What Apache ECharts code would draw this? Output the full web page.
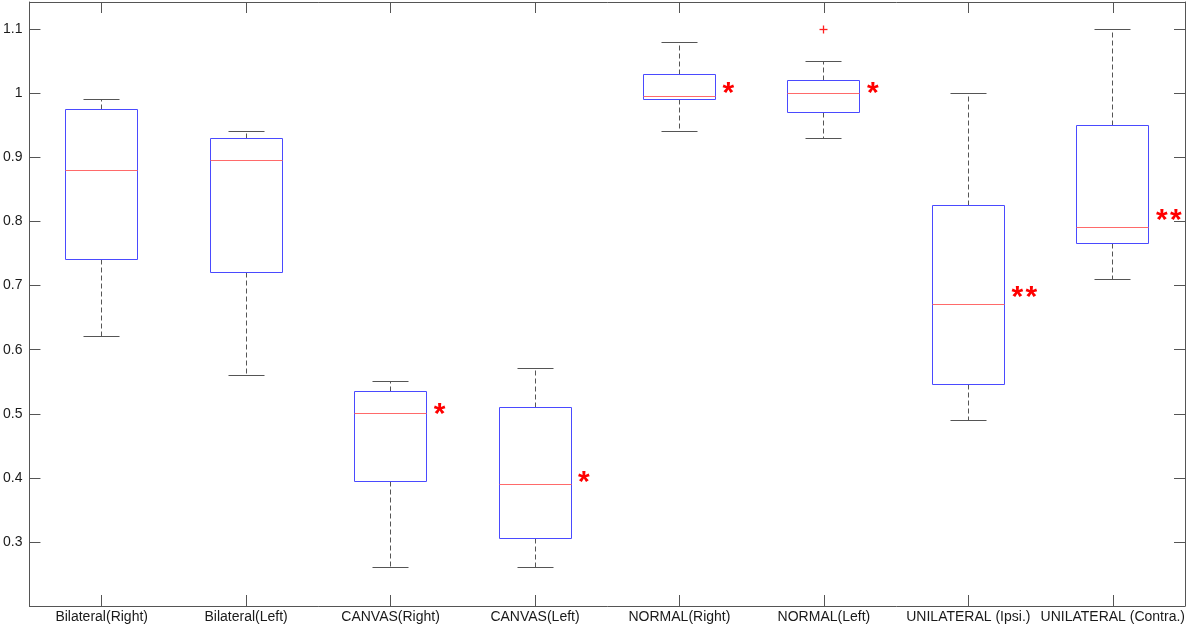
<!DOCTYPE html>
<html lang="en">
<head>
<meta charset="UTF-8">
<style>
  html, body { margin: 0; padding: 0; background: #fff; }
  #chart { width: 1189px; height: 627px; }
</style>
<script src="https://cdn.jsdelivr.net/npm/echarts@6/dist/echarts.min.js"></script>
</head>
<body>
<div id="chart"></div>
<script>
// groups on the x axis
const groups = ['Bilateral(Right)', 'Bilateral(Left)', 'CANVAS(Right)', 'CANVAS(Left)',
                'NORMAL(Right)', 'NORMAL(Left)', 'UNILATERAL (Ipsi.)', 'UNILATERAL (Contra.)'];
// box statistics
const whiskerLow  = [0.62, 0.56, 0.26, 0.26, 0.94, 0.93, 0.49, 0.71];
const q1          = [0.74, 0.72, 0.395, 0.305, 0.99, 0.97, 0.545, 0.765];
const median      = [0.88, 0.895, 0.50, 0.39, 0.995, 1.00, 0.67, 0.79];
const q3          = [0.975, 0.93, 0.535, 0.51, 1.03, 1.02, 0.825, 0.95];
const whiskerHigh = [0.99, 0.94, 0.55, 0.57, 1.08, 1.05, 1.00, 1.10];
// outliers: [group index, value]
const outliers = [[5, 1.10]];
// significance marks and the value they sit at
const sigMarks  = ['', '', '*', '*', '*', '*', '**', '**'];
const sigLevels = [0, 0, 0.510, 0.403, 1.010, 1.010, 0.692, 0.812];
const yTicks = [0.3, 0.4, 0.5, 0.6, 0.7, 0.8, 0.9, 1, 1.1];

const AXIS = '#555';
const crisp = v => Math.round(v - 0.5) + 0.5;

const boxData = groups.map((g, i) => [i, whiskerLow[i], q1[i], median[i], q3[i], whiskerHigh[i]]);
const sigData = groups.map((g, i) => [i, sigLevels[i], sigMarks[i]]).filter(d => d[2]);

function renderBox(params, api) {
  const i = api.value(0);
  const w = api.size([1, 0])[0];
  const cx = crisp(api.coord([i, 0])[0]);
  const y = k => crisp(api.coord([i, api.value(k)])[1]);
  const yLow = y(1), yQ1 = y(2), yMed = y(3), yQ3 = y(4), yHigh = y(5);
  const bl = crisp(cx - w * 0.25), br = crisp(cx + w * 0.25);
  const cl = crisp(cx - w * 0.125), cr = crisp(cx + w * 0.125);
  const dash = { stroke: '#555', lineWidth: 1, lineDash: [5, 3] };
  const solid = { stroke: '#555', lineWidth: 1 };
  return {
    type: 'group',
    children: [
      { type: 'line', shape: { x1: cx, y1: yQ3, x2: cx, y2: yHigh }, style: dash },
      { type: 'line', shape: { x1: cx, y1: yQ1, x2: cx, y2: yLow }, style: dash },
      { type: 'line', shape: { x1: cl, y1: yHigh, x2: cr, y2: yHigh }, style: solid },
      { type: 'line', shape: { x1: cl, y1: yLow, x2: cr, y2: yLow }, style: solid },
      { type: 'rect', shape: { x: bl, y: yQ3, width: br - bl, height: yQ1 - yQ3 },
        style: { fill: null, stroke: '#4a4aff', lineWidth: 1 } },
      { type: 'line', shape: { x1: bl, y1: yMed, x2: br, y2: yMed },
        style: { stroke: '#ff6a6a', lineWidth: 1 } }
    ]
  };
}

function renderOutlier(params, api) {
  const p = api.coord([api.value(0), api.value(1)]);
  const x = crisp(p[0]), yv = crisp(p[1]);
  const s = { stroke: '#ff2020', lineWidth: 1.3 };
  return {
    type: 'group',
    children: [
      { type: 'line', shape: { x1: x - 4, y1: yv, x2: x + 4, y2: yv }, style: s },
      { type: 'line', shape: { x1: x, y1: yv - 4, x2: x, y2: yv + 4 }, style: s }
    ]
  };
}

// each star drawn on its own so the pair keeps a small gap
function renderSig(params, api) {
  const i = api.value(0);
  const w = api.size([1, 0])[0];
  const p = api.coord([i, api.value(1)]);
  const x0 = p[0] + w * 0.25 + 7;
  return {
    type: 'group',
    children: sigMarks[i].split('').map((c, k) => ({
      type: 'text',
      x: x0 + k * 14,
      y: p[1] + 7,
      style: {
        text: c,
        fill: '#ff0000',
        font: 'bold 30px "Liberation Sans", Arial, sans-serif',
        align: 'left',
        verticalAlign: 'middle'
      }
    }))
  };
}

const chart = echarts.init(document.getElementById('chart'));

const catAxis = (pos, showLabel) => ({
  type: 'category',
  position: pos,
  data: groups,
  boundaryGap: true,
  axisLine: { show: true, lineStyle: { color: AXIS, width: 1 } },
  axisTick: { show: true, inside: true, length: 11, alignWithLabel: true, lineStyle: { color: AXIS } },
  axisLabel: {
    show: showLabel, interval: 0, margin: 4, color: '#1a1a1a', fontSize: 14,
    fontFamily: '"Liberation Sans", Arial, sans-serif'
  },
  splitLine: { show: false }
});

const valAxis = (pos, showLabel) => ({
  type: 'value',
  position: pos,
  min: 0.2,
  max: 1.1426,
  interval: 0.1,
  axisLine: { show: true, lineStyle: { color: AXIS, width: 1 } },
  axisTick: { show: true, inside: true, length: 11, lineStyle: { color: AXIS } },
  axisLabel: {
    show: showLabel, margin: 7, color: '#1a1a1a', fontSize: 14,
    fontFamily: '"Liberation Sans", Arial, sans-serif',
    formatter: v => {
      const hit = yTicks.find(t => Math.abs(t - v) < 1e-6);
      return hit === undefined ? '' : String(hit);
    }
  },
  splitLine: { show: false }
});

chart.setOption({
  backgroundColor: '#fff',
  animation: false,
  grid: { left: 29, right: 4, top: 2, bottom: 21, containLabel: false },
  xAxis: [catAxis('bottom', true), catAxis('top', false)],
  yAxis: [valAxis('left', true), valAxis('right', false)],
  series: [
    {
      type: 'custom',
      xAxisIndex: 0, yAxisIndex: 0,
      renderItem: renderBox,
      encode: { x: 0, y: [1, 2, 3, 4, 5] },
      data: boxData
    },
    {
      type: 'custom',
      xAxisIndex: 0, yAxisIndex: 0,
      renderItem: renderOutlier,
      encode: { x: 0, y: 1 },
      data: outliers
    },
    {
      type: 'custom',
      xAxisIndex: 0, yAxisIndex: 0,
      renderItem: renderSig,
      encode: { x: 0, y: 1 },
      data: sigData
    }
  ]
});
</script>
</body>
</html>
